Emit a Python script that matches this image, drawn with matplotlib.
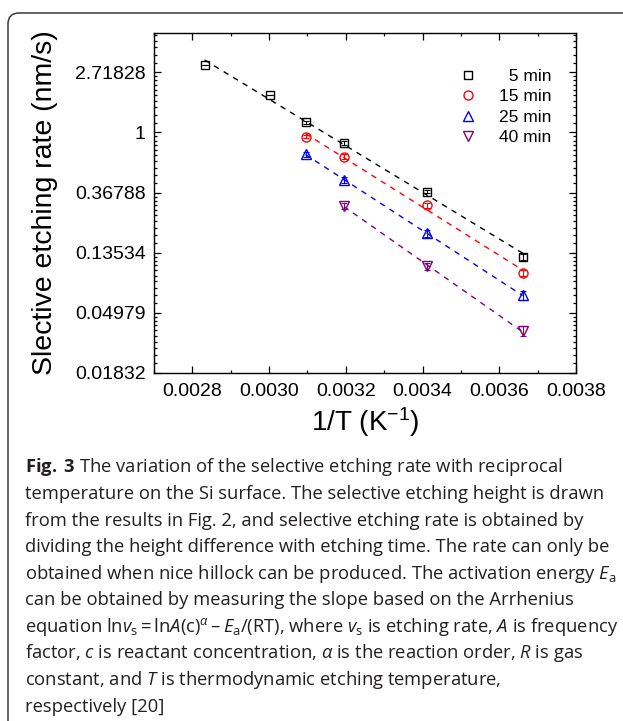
import numpy as np
import matplotlib
matplotlib.use("Agg")
import matplotlib.pyplot as plt
from matplotlib.lines import Line2D
from matplotlib.patches import FancyBboxPatch
from matplotlib.ticker import FixedLocator, NullFormatter
from matplotlib.transforms import IdentityTransform

# ---- data ----
inv_T_5 = [0.002832, 0.003003, 0.003095, 0.003195, 0.003411, 0.003661]
rate_5 = [3.05, 1.87, 1.19, 0.837, 0.374, 0.126]
err_5 = [0.0, 0.0, 0.03, 0.03, 0.01, 0.006]

inv_T_15 = [0.003095, 0.003195, 0.003411, 0.003661]
rate_15 = [0.935, 0.670, 0.298, 0.097]
err_15 = [0.03, 0.03, 0.012, 0.005]

inv_T_25 = [0.003095, 0.003195, 0.003411, 0.003661]
rate_25 = [0.697, 0.454, 0.187, 0.0665]
err_25 = [0.03, 0.025, 0.01, 0.005]

inv_T_40 = [0.003195, 0.003411, 0.003661]
rate_40 = [0.296, 0.108, 0.0367]
err_40 = [0.015, 0.007, 0.003]

series_labels = ["  5 min", "15 min", "25 min", "40 min"]
series_colors = ["black", "#ff0000", "#0000ff", "#800080"]
series_markers = ["s", "o", "^", "v"]

x_ticks = [0.0028, 0.0030, 0.0032, 0.0034, 0.0036, 0.0038]
y_tick_exp = [1, 0, -1, -2, -3, -4]
y_tick_labels = ["2.71828", "1", "0.36788", "0.13534", "0.04979", "0.01832"]

caption_lines = [
    r"$\mathbf{Fig.\;3}$ The variation of the selective etching rate with reciprocal",
    "temperature on the Si surface. The selective etching height is drawn",
    "from the results in Fig. 2, and selective etching rate is obtained by",
    "dividing the height difference with etching time. The rate can only be",
    r"obtained when nice hillock can be produced. The activation energy $E_\mathrm{a}$",
    "can be obtained by measuring the slope based on the Arrhenius",
    "equation ln$v_\\mathrm{s}$\u2009=\u2009ln$A$(c)$^{\\alpha}$\u2009–\u2009$E_\\mathrm{a}$/(RT), "
    "where $v_\\mathrm{s}$ is etching rate, $A$ is frequency",
    r"factor, $c$ is reactant concentration, $\alpha$ is the reaction order, $R$ is gas",
    r"constant, and $T$ is thermodynamic etching temperature,",
    "respectively [20]",
]

# ---- style ----
plt.rcParams["font.family"] = ["Liberation Sans", "DejaVu Sans"]
plt.rcParams["mathtext.fontset"] = "custom"
plt.rcParams["mathtext.rm"] = "Open Sans"
plt.rcParams["mathtext.it"] = "Open Sans:italic"
plt.rcParams["mathtext.bf"] = "Open Sans:bold"

fig = plt.figure(figsize=(6.23, 7.21), dpi=100)
ax = fig.add_axes([0.2472, 0.4827, 0.6774, 0.4716])

series = [
    (inv_T_5, rate_5, err_5),
    (inv_T_15, rate_15, err_15),
    (inv_T_25, rate_25, err_25),
    (inv_T_40, rate_40, err_40),
]

for (xs, ys, es), col, mk in zip(series, series_colors, series_markers):
    xs = np.array(xs)
    ys = np.array(ys)
    # Arrhenius fit: ln(rate) linear in 1/T
    slope, icpt = np.polyfit(xs, np.log(ys), 1)
    xf = np.array([xs.min(), xs.max()])
    ax.plot(xf, np.exp(slope * xf + icpt), color=col, linestyle=(0, (4, 4)),
            linewidth=1.0, zorder=2)
    ax.errorbar(xs, ys, yerr=es, fmt="none", ecolor=col, elinewidth=0.8,
                capsize=2.5, capthick=0.8, zorder=3)
    ms = 5.5 if mk == "s" else 6.5
    ax.plot(xs, ys, linestyle="none", marker=mk, markersize=ms,
            markerfacecolor="none", markeredgecolor=col, markeredgewidth=1.0,
            zorder=4)

ax.set_yscale("log")
ax.set_xlim(0.0027, 0.0038)
ax.set_ylim(np.exp(-4), np.exp(1.655))

ax.set_xticks(x_ticks)
ax.set_xticklabels([f"{v:.4f}" for v in x_ticks])
ax.xaxis.set_minor_locator(FixedLocator(np.arange(0.0027, 0.00381, 0.0001)))

ax.yaxis.set_major_locator(FixedLocator(np.exp(y_tick_exp)))
ax.set_yticklabels(y_tick_labels)
minor_y = []
for n in range(-4, 2):
    lo, hi = np.exp(n), np.exp(n + 1)
    minor_y += list(lo + (hi - lo) * np.arange(1, 10) / 10)
ax.yaxis.set_minor_locator(FixedLocator(minor_y))
ax.yaxis.set_minor_formatter(NullFormatter())

ax.tick_params(which="both", direction="in", top=True, right=True,
               labelsize=14, width=0.9)
ax.tick_params(which="major", length=5)
ax.tick_params(which="minor", length=2.5)
ax.tick_params(axis="x", which="major", pad=7)
ax.tick_params(axis="y", which="major", pad=6)
for sp in ax.spines.values():
    sp.set_linewidth(1.0)

ax.set_xlabel(r"1/T (K$^{\mathregular{-1}}$)", fontsize=20, labelpad=4)
ax.set_ylabel("Slective etching rate (nm/s)", fontsize=20.5, labelpad=12)

handles = [Line2D([], [], linestyle="none", marker=mk,
                  markersize=(5.5 if mk == "s" else 6.5), markerfacecolor="none",
                  markeredgecolor=col, markeredgewidth=1.0)
           for col, mk in zip(series_colors, series_markers)]
ax.legend(handles, series_labels, loc="upper right", frameon=False,
          fontsize=12.5, handlelength=1.0, handletextpad=1.3,
          labelspacing=0.3, bbox_to_anchor=(0.98, 0.94))

# ---- caption box and text ----
box = FancyBboxPatch((8, -60), 700, 708 + 60, boxstyle="round,pad=0,rounding_size=11",
                     transform=IdentityTransform(), facecolor="none",
                     edgecolor="#3a3a3a", linewidth=1.1)
fig.patches.append(box)

y0 = 1 - 472.3 / 721
dy = 26.6 / 721
for i, line in enumerate(caption_lines):
    fig.text(25 / 623, y0 - i * dy, line, fontsize=13.2, family=["Open Sans", "DejaVu Sans"],
             color="#231f20", va="baseline", ha="left")

fig.savefig("out.png", dpi=100)
